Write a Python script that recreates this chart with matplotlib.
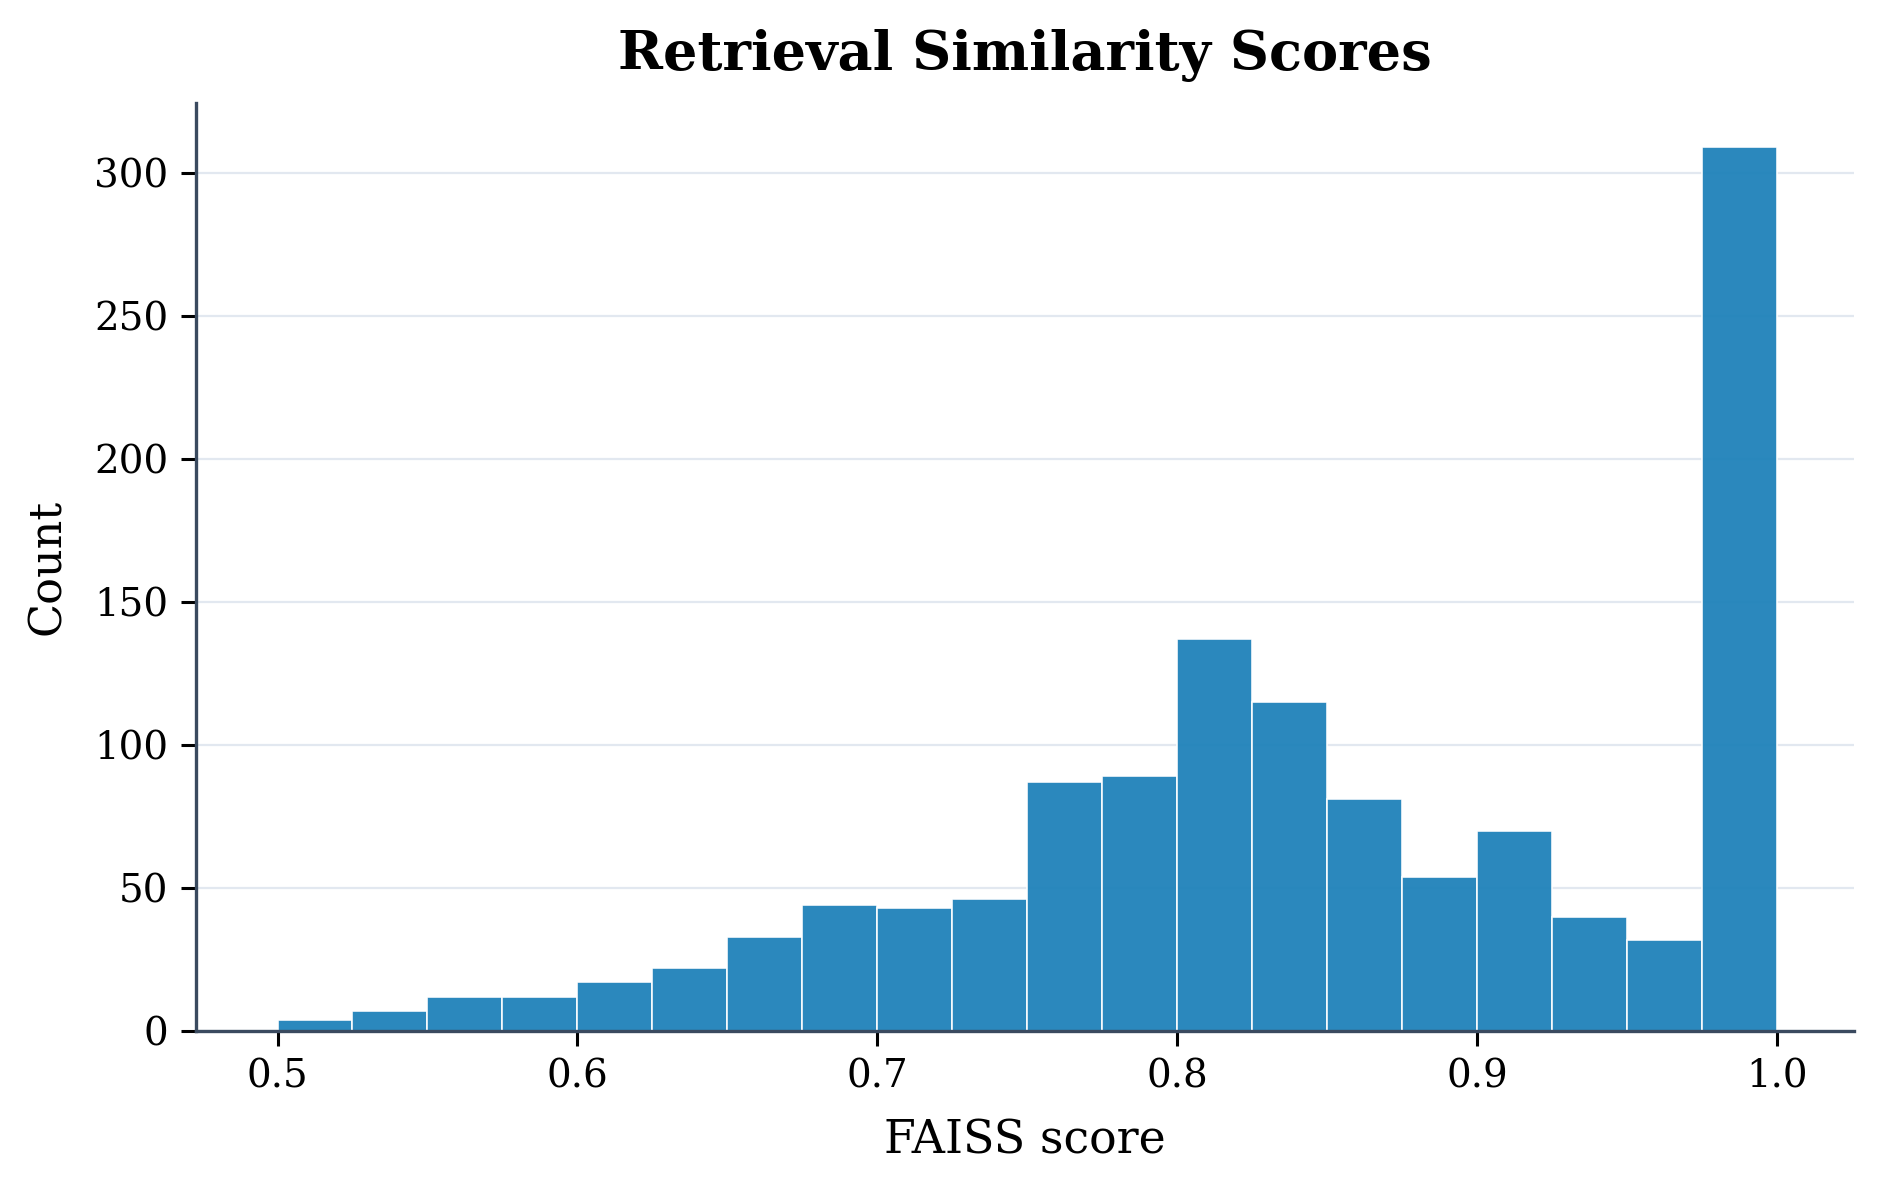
import numpy as np
import matplotlib
matplotlib.use('Agg')
import matplotlib.pyplot as plt

plt.rc('font', family='DejaVu Serif', size=13)

###### Histogram values ######

bin_edges = np.linspace(0.5, 1.0, 21)
counts = [4, 7, 12, 12, 17, 22, 33, 44, 43, 46,
          87, 89, 137, 115, 81, 54, 70, 40, 32, 309]

title = 'Retrieval Similarity Scores'
xlabel = 'FAISS score'
ylabel = 'Count'

fig = plt.figure(figsize=(9.42, 5.955), dpi=200)
ax = fig.add_axes([0.104, 0.1343, 0.880, 0.7792])

ax.hist(bin_edges[:-1], bins=bin_edges, weights=counts,
        color='#1f82ba', alpha=0.95, edgecolor='white', linewidth=0.6, zorder=2)

ax.grid(axis='y', color='#e2e8f0', linewidth=0.8, zorder=0)
ax.set_axisbelow(True)
for side in ['top', 'right']:
    ax.spines[side].set_visible(False)
for side in ['left', 'bottom']:
    ax.spines[side].set_color('#3a4a5f')
    ax.spines[side].set_linewidth(1.2)

ax.set_xlim(0.4728, 1.0256)
ax.set_yticks([0, 50, 100, 150, 200, 250, 300])
ax.set_xticks([0.5, 0.6, 0.7, 0.8, 0.9, 1.0])
ax.tick_params(length=5.5, width=1.1, pad=4.5, labelsize=14)

ax.set_title(title, fontsize=19.5, fontweight='bold', pad=12)
ax.set_xlabel(xlabel, fontsize=16.5, labelpad=8)
ax.set_ylabel(ylabel, fontsize=16, labelpad=9)

plt.savefig('out.png', dpi=200, facecolor='w')
